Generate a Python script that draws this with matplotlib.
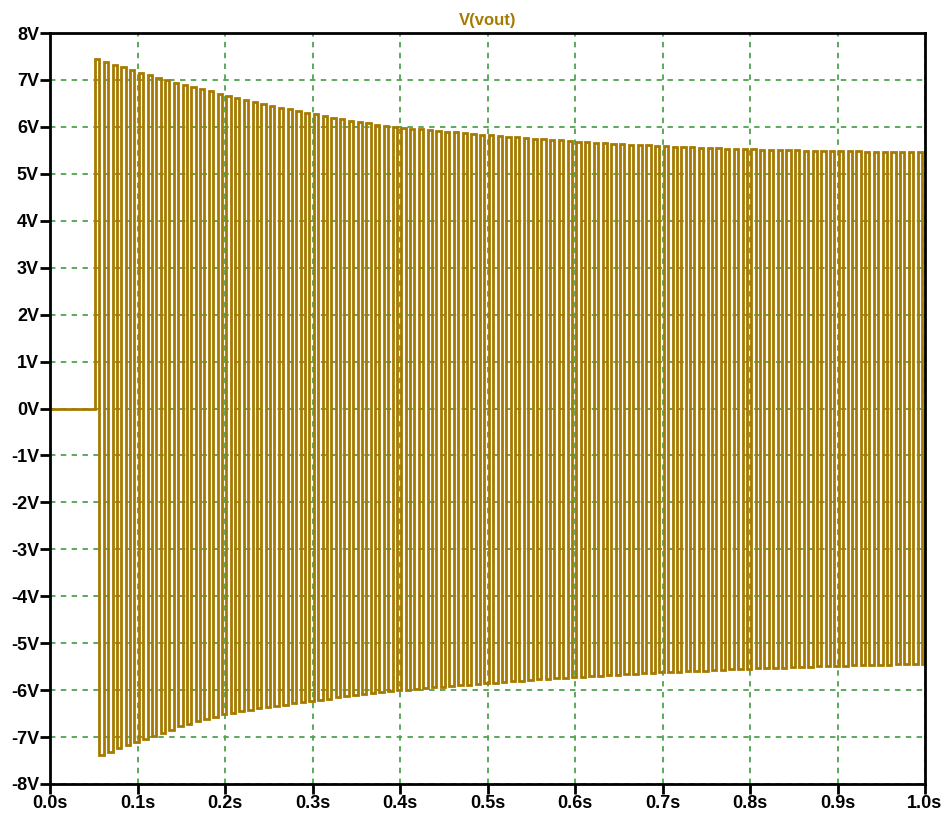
import numpy as np
import matplotlib
matplotlib.use("Agg")
import matplotlib.pyplot as plt

# envelope (seconds, volts)
env_t = [0.05, 0.10, 0.15, 0.20, 0.25, 0.30, 0.35, 0.40, 0.45, 0.50,
         0.55, 0.60, 0.65, 0.70, 0.75, 0.80, 0.85, 0.90, 0.95, 1.00]
env_hi = [7.45, 7.16, 6.90, 6.67, 6.45, 6.27, 6.10, 5.98, 5.90, 5.82,
          5.75, 5.69, 5.63, 5.59, 5.55, 5.52, 5.50, 5.48, 5.47, 5.46]
env_lo = [-7.42, -7.08, -6.75, -6.50, -6.35, -6.22, -6.10, -6.00, -5.92, -5.85,
          -5.78, -5.72, -5.67, -5.62, -5.58, -5.54, -5.51, -5.48, -5.46, -5.44]

t_on = 0.0515      # source switches on
period = 0.01      # 100 Hz square wave
t_end = 1.0

yticks = list(range(-8, 9))
xticks = [0.0, 0.1, 0.2, 0.3, 0.4, 0.5, 0.6, 0.7, 0.8, 0.9, 1.0]

trace = "#a67a00"
grid = "#4fa34f"

plt.rcParams['font.family'] = ['Liberation Sans', 'DejaVu Sans']

# build the step waveform, one high and one low half per cycle
n_cyc = int(round((t_end - t_on) / period))
edges = [0.0]
vals = [0.0]
for k in range(n_cyc):
    ts = t_on + k * period
    edges += [ts, ts + period / 2]
    vals += [np.interp(ts, env_t, env_hi), np.interp(ts + period / 2, env_t, env_lo)]
edges.append(t_end)
vals.append(0.0)

fig = plt.figure(figsize=(9.52, 8.23), dpi=100)
ax = fig.add_axes([50 / 952, 1 - 784 / 823, 875 / 952, 751 / 823])

ax.plot(edges, vals, drawstyle="steps-post", color=trace, lw=2.0, solid_joinstyle="miter")

ax.set_xlim(0, 1.0)
ax.set_ylim(-8, 8)
ax.set_xticks(xticks)
ax.set_xticklabels([f"{v:.1f}s" for v in xticks])
ax.set_yticks(yticks)
ax.set_yticklabels([f"{v}V" for v in yticks])
ax.grid(True, color=grid, ls=(0, (3, 3)), lw=1.3)
ax.set_axisbelow(True)

for s in ax.spines.values():
    s.set_linewidth(2)
ax.tick_params(direction="out", length=7, width=2, labelsize=13, pad=1)
for lab in ax.get_xticklabels() + ax.get_yticklabels():
    lab.set_fontweight("bold")

ax.set_title("V(vout)", color=trace, fontweight="bold", fontsize=12, pad=6)

fig.savefig("out.png", dpi=100)
